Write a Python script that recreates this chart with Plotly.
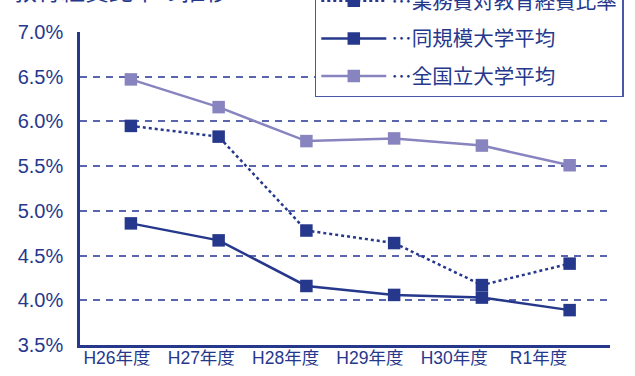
import plotly.graph_objects as go

# 年度ラベル
categories = ["H26年度", "H27年度", "H28年度", "H29年度", "H30年度", "R1年度"]

# 教育経費比率 (%)
ratio_own = [5.95, 5.83, 4.78, 4.64, 4.17, 4.41]        # 業務費対教育経費比率
ratio_similar = [4.86, 4.67, 4.16, 4.06, 4.03, 3.89]    # 同規模大学平均
ratio_national = [6.47, 6.16, 5.78, 5.81, 5.73, 5.51]   # 全国立大学平均

y_ticks = [3.5, 4.0, 4.5, 5.0, 5.5, 6.0, 6.5, 7.0]
y_tick_text = [f"{v:.1f}%" for v in y_ticks]

NAVY = "#26388c"
LILAC = "#8884bf"
GRID = "#5a65b0"
FONT = "Liberation Sans, Noto Sans CJK JP, sans-serif"

idx = list(range(len(categories)))

fig = go.Figure()

fig.add_trace(go.Scatter(
    x=idx, y=ratio_own, name="…業務費対教育経費比率",
    mode="lines+markers", legendgroup="a",
    line=dict(color=NAVY, width=2.5, dash="dot"),
    marker=dict(symbol="square", size=12.5, color=NAVY),
))
fig.add_trace(go.Scatter(
    x=idx, y=ratio_similar, name="…同規模大学平均",
    mode="lines+markers", legendgroup="b",
    line=dict(color=NAVY, width=2.5),
    marker=dict(symbol="square", size=12.5, color=NAVY),
))
fig.add_trace(go.Scatter(
    x=idx, y=ratio_national, name="…全国立大学平均",
    mode="lines+markers", legendgroup="c",
    line=dict(color=LILAC, width=2.5),
    marker=dict(symbol="square", size=12.5, color=LILAC),
))

fig.update_layout(
    width=635, height=376,
    margin=dict(l=80, r=25, t=31.5, b=30.5, autoexpand=False),
    paper_bgcolor="white", plot_bgcolor="white",
    font=dict(family=FONT, color=NAVY, size=17),
    showlegend=True,
    legend=dict(
        x=0.443, xanchor="left", y=0.791, yanchor="bottom",
        bgcolor="white", bordercolor="#4a56a6", borderwidth=1.5,
        font=dict(size=20.5, color=NAVY, family="Noto Sans CJK JP, sans-serif"),
        itemwidth=65, tracegroupgap=8, traceorder="grouped",
    ),
    xaxis=dict(
        range=[-0.58, 5.46], showticklabels=False, showgrid=False,
        zeroline=False, showline=True, linecolor=NAVY, linewidth=2.5,
        ticks="",
    ),
    xaxis2=dict(
        overlaying="x", anchor="y", side="bottom",
        range=[-0.439, 5.848], tickmode="array", tickvals=idx,
        ticktext=categories, showgrid=False, zeroline=False,
        showline=False, ticks="",
        tickfont=dict(size=17.5, color=NAVY, family=FONT),
    ),
    yaxis=dict(
        range=[3.5, 7.0], tickmode="array", tickvals=y_ticks,
        ticktext=y_tick_text, showgrid=True, gridcolor=GRID,
        gridwidth=1.5, griddash="7px,6px", zeroline=False,
        showline=True, linecolor=NAVY, linewidth=2.5, ticks="",
        ticklabelstandoff=10,
        tickfont=dict(size=20, color=NAVY, family=FONT),
    ),
    annotations=[dict(
        text="教育経費比率の推移", xref="paper", yref="paper",
        x=-0.13, xanchor="left", y=1.072, yanchor="bottom",
        showarrow=False,
        font=dict(size=24, color=NAVY, family="Noto Sans CJK JP, sans-serif"),
    )],
)

# ticks-only axis carrying the year labels
fig.add_trace(go.Scatter(
    x=idx, y=ratio_similar, xaxis="x2", mode="markers",
    marker=dict(opacity=0), showlegend=False, hoverinfo="skip",
))

fig.write_html("out.html")
